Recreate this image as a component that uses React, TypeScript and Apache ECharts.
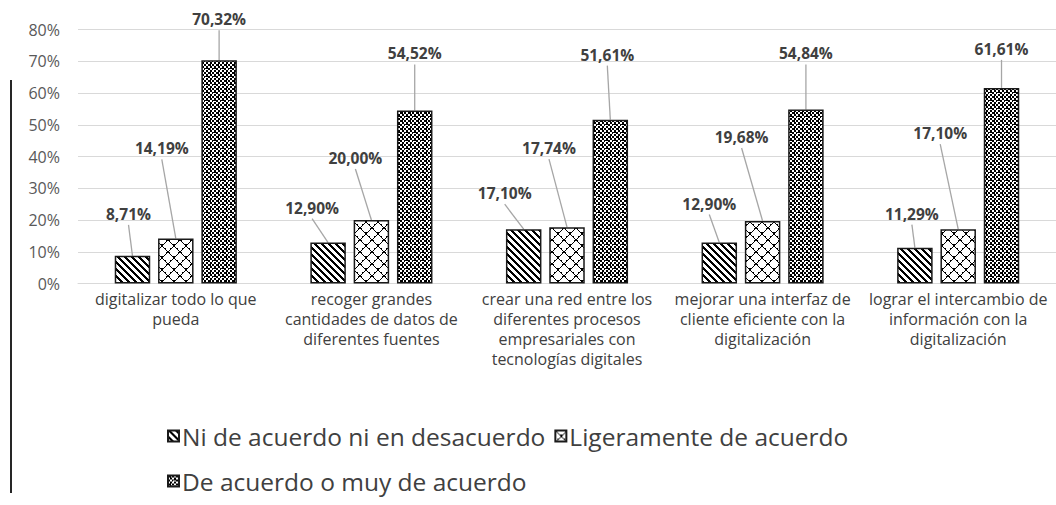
import React, { useEffect, useRef } from "react";
import * as echarts from "echarts";

const categories = [
  "digitalizar todo lo que\npueda",
  "recoger grandes\ncantidades de datos de\ndiferentes fuentes",
  "crear una red entre los\ndiferentes procesos\nempresariales con\ntecnologías digitales",
  "mejorar una interfaz de\ncliente eficiente con la\ndigitalización",
  "lograr el intercambio de\ninformación con la\ndigitalización",
];

const seriesNames = [
  "Ni de acuerdo ni en desacuerdo",
  "Ligeramente de acuerdo",
  "De acuerdo o muy de acuerdo",
];

const neutral = [8.71, 12.9, 17.1, 12.9, 11.29];
const slightly = [14.19, 20.0, 17.74, 19.68, 17.1];
const agree = [70.32, 54.52, 51.61, 54.84, 61.61];

const yTicks = { min: 0, max: 80, interval: 10 };

// label shifts (layout only)
const labelShift: number[][][] = [
  [[-4, -29], [-16, -22], [-19, -23], [-10, -26], [-3, -21]],
  [[-14, -77], [-16, -49], [-18, -66], [-21, -71], [-18, -83]],
  [[0, -28], [0, -44], [-3, -52], [0, -43], [0, -26]],
];

const BAR_W = 35.5;
const BAR_GAP = 0.22;

function makeTile(size: number, draw: (ctx: CanvasRenderingContext2D) => void) {
  const c = document.createElement("canvas");
  c.width = size;
  c.height = size;
  const ctx = c.getContext("2d")!;
  ctx.fillStyle = "#ffffff";
  ctx.fillRect(0, 0, size, size);
  ctx.fillStyle = "#000000";
  draw(ctx);
  return c;
}

function stripes() {
  return makeTile(7, (ctx) => {
    for (let x = 0; x < 7; x++)
      for (let y = 0; y < 7; y++) {
        if (((x - y + 14) % 7) < 3) ctx.fillRect(x, y, 1, 1);
      }
  });
}

function lattice() {
  return makeTile(12, (ctx) => {
    for (let i = 0; i < 12; i++) {
      ctx.fillRect(i, i, 1, 1);
      ctx.fillRect(11 - i, i, 1, 1);
      if (i % 4 === 0) {
        ctx.fillRect((i + 1) % 12, i, 1, 1);
        ctx.fillRect((11 - i - 1 + 12) % 12, i, 1, 1);
      }
    }
  });
}

function checker() {
  return makeTile(8, (ctx) => {
    for (let x = 0; x < 8; x++)
      for (let y = 0; y < 8; y++) {
        if ((Math.floor(x / 2) + Math.floor(y / 2)) % 2 === 0) ctx.fillRect(x, y, 1, 1);
      }
    ctx.fillRect(2, 0, 1, 2);
    ctx.fillRect(6, 4, 2, 1);
    ctx.fillStyle = "#ffffff";
    ctx.fillRect(5, 5, 1, 1);
  });
}

const fmt = (v: number) => v.toFixed(2).replace(".", ",") + "%";

export default function App() {
  const ref = useRef<HTMLDivElement>(null);
  useEffect(() => {
    if (!ref.current) return;
    const chart = echarts.init(ref.current, null, { renderer: "svg" });
    const patterns = [stripes(), lattice(), checker()];
    const values = [neutral, slightly, agree];
    const font = "'Open Sans', Calibri, sans-serif";
    const leaderData: number[][] = [];
    values.forEach((vals, si) => vals.forEach((v, ci) => leaderData.push([ci, v, si])));
    const step = BAR_W * (1 + BAR_GAP);
    const legendText = {
      fontSize: 24.5,
      lineHeight: 26,
      color: "#404040",
      fontFamily: font,
      padding: [0, 0, 0, -2],
    };

    chart.setOption({
      animation: false,
      textStyle: { fontFamily: font },
      grid: { left: 78, top: 29.5, width: 987, height: 254 },
      legend: [
        {
          data: [seriesNames[0], seriesNames[1]],
          left: 162,
          top: 418,
          icon: "rect",
          itemWidth: 11,
          itemHeight: 11,
          itemGap: 9,
          selectedMode: false,
          textStyle: legendText,
        },
        {
          data: [seriesNames[2]],
          left: 162,
          top: 463,
          icon: "rect",
          itemWidth: 11,
          itemHeight: 11,
          selectedMode: false,
          textStyle: legendText,
        },
      ],
      xAxis: {
        type: "category",
        data: categories,
        axisTick: { show: false },
        axisLine: { lineStyle: { color: "#d9d9d9", width: 1 } },
        axisLabel: {
          interval: 0,
          fontSize: 16,
          lineHeight: 20,
          color: "#404040",
          margin: 5,
          fontFamily: font,
        },
      },
      yAxis: {
        type: "value",
        min: yTicks.min,
        max: yTicks.max,
        interval: yTicks.interval,
        axisLine: { show: false },
        axisTick: { show: false },
        splitLine: { lineStyle: { color: "#d9d9d9", width: 1 } },
        axisLabel: {
          formatter: "{value}%",
          fontSize: 16,
          color: "#595959",
          margin: 18,
          fontFamily: font,
        },
      },
      graphic: [
        {
          type: "line",
          shape: { x1: 11, y1: 80, x2: 11, y2: 493 },
          style: { stroke: "#262626", lineWidth: 2 },
          silent: true,
        },
      ],
      series: [
        ...values.map((vals, si) => ({
          type: "bar",
          name: seriesNames[si],
          data: vals,
          barWidth: BAR_W,
          barGap: BAR_GAP * 100 + "%",
          z: 3,
          itemStyle: {
            color: { image: patterns[si], repeat: "repeat" },
            borderColor: "#1a1a1a",
            borderWidth: 1.5,
          },
          label: {
            show: true,
            position: "top",
            distance: 5,
            formatter: (p: any) => fmt(p.value),
            fontWeight: "bold",
            fontSize: 15.5,
            color: "#404040",
            fontFamily: font,
          },
          labelLayout: (p: any) => ({
            dx: labelShift[si][p.dataIndex][0],
            dy: labelShift[si][p.dataIndex][1],
          }),
        })),
        {
          type: "custom",
          name: "leaders",
          silent: true,
          z: 2,
          data: leaderData,
          encode: { x: 0, y: 1 },
          renderItem: (params: any, api: any) => {
            const ci = api.value(0);
            const v = api.value(1);
            const si = api.value(2);
            const pt = api.coord([ci, v]);
            const x0 = pt[0] + (si - 1) * step;
            const [dx, dy] = labelShift[si][ci];
            const yEnd = pt[1] - 5 + dy + 3;
            return {
              type: "line",
              shape: { x1: x0, y1: pt[1], x2: x0 + dx, y2: yEnd },
              style: { stroke: "#a6a6a6", lineWidth: 1.3 },
            };
          },
        },
      ],
    });
    return () => chart.dispose();
  }, []);
  return (
    <div
      ref={ref}
      style={{ position: "fixed", left: 0, top: 0, width: 1056, height: 505, background: "#fff" }}
    />
  );
}
